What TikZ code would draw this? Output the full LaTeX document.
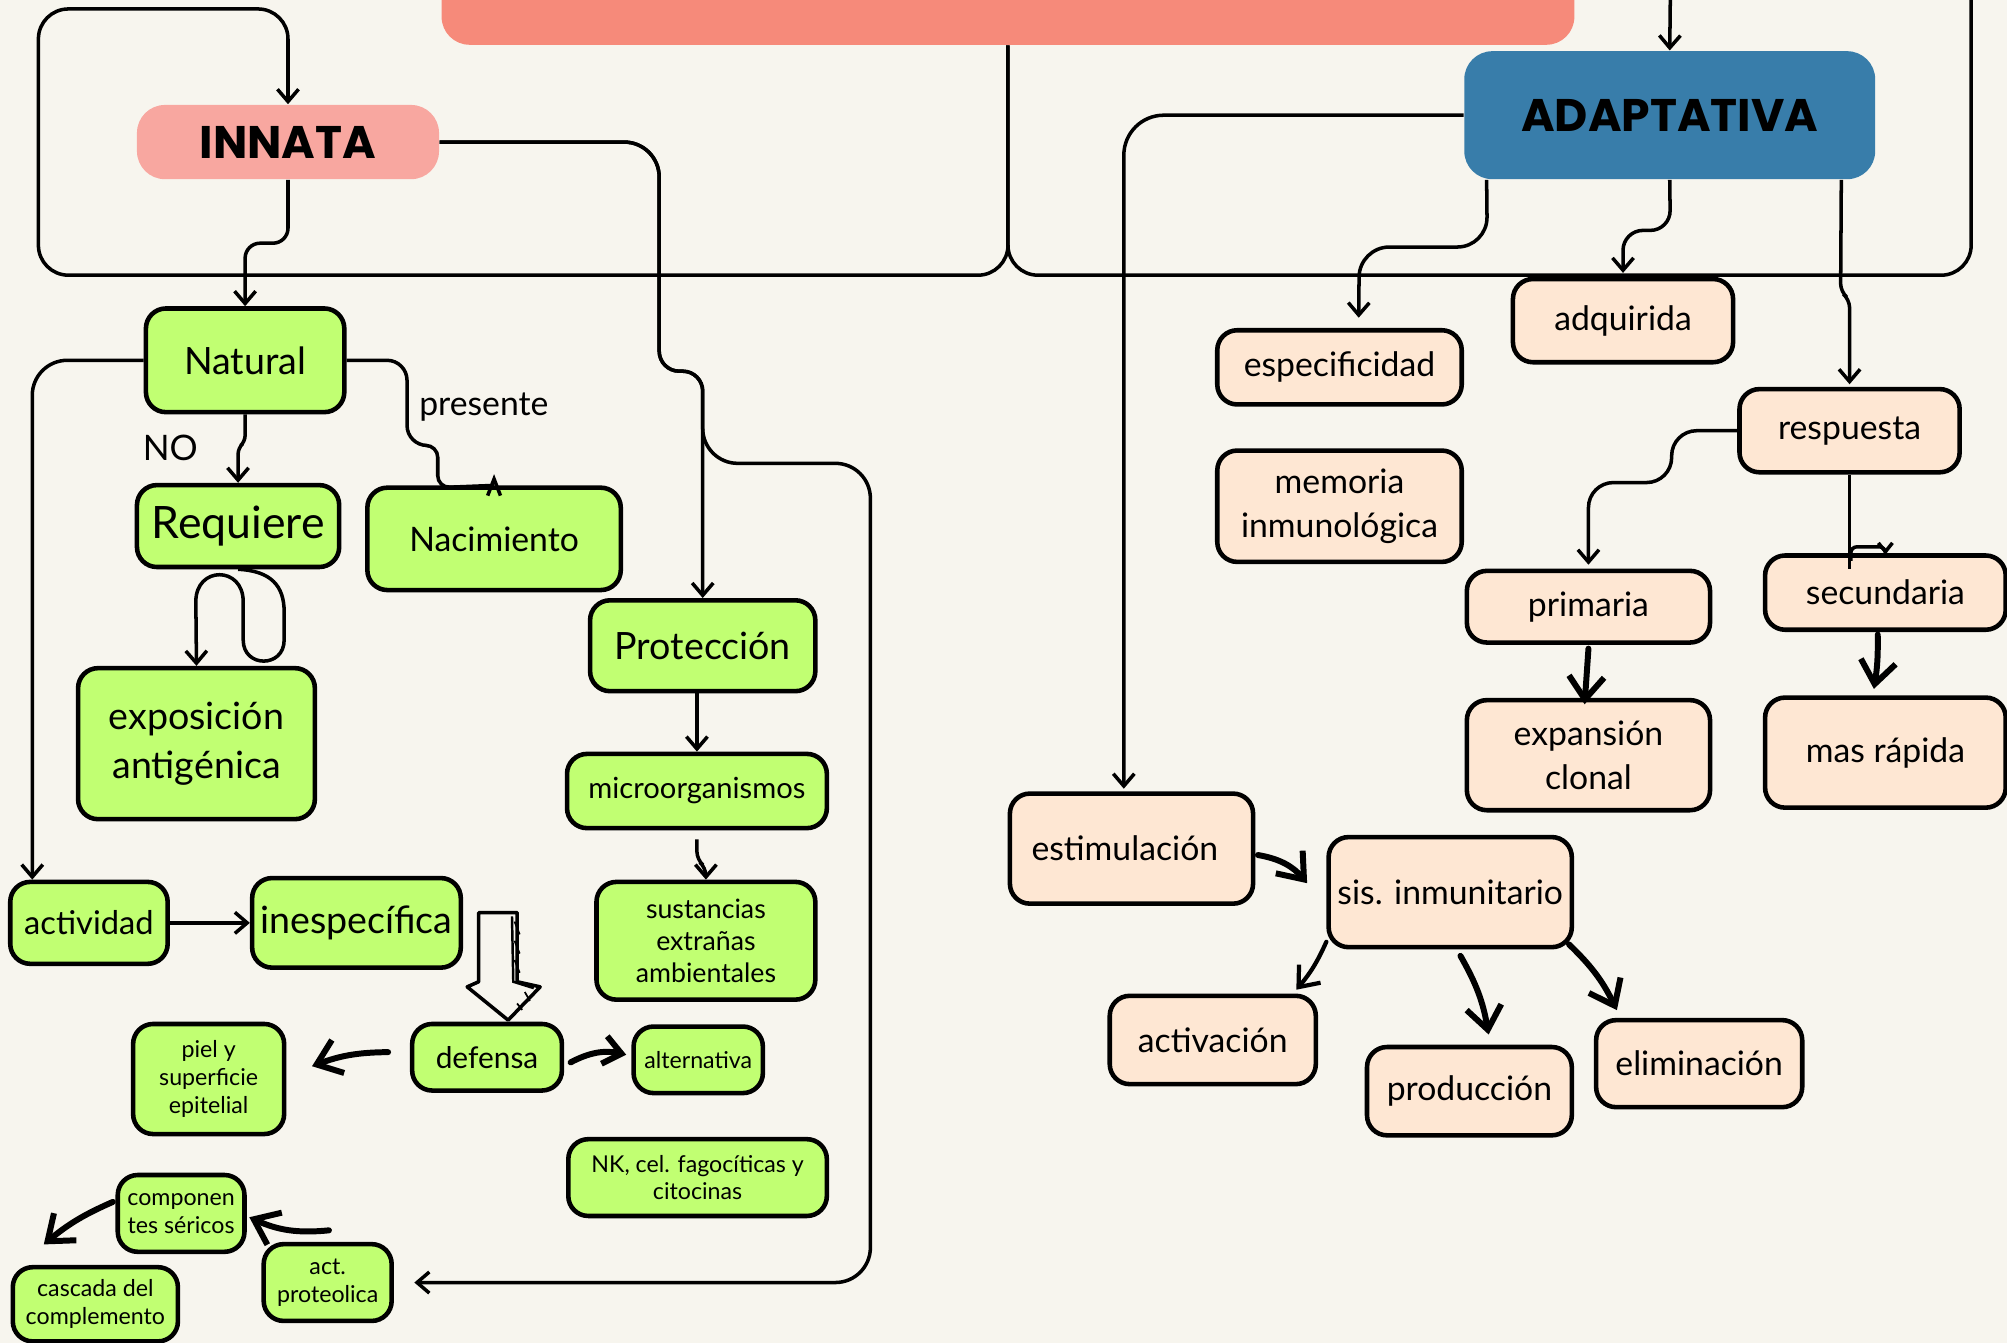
\documentclass[tikz,border=0pt]{standalone}
\usepackage{fontspec}
\setmainfont{Lato}
\newfontfamily\headfont{Poppins}
\usetikzlibrary{arrows.meta,calc,positioning}

\definecolor{bgcream}{HTML}{F7F5EE}
\definecolor{barsalmon}{HTML}{F68A7A}
\definecolor{innatapink}{HTML}{F8A7A0}
\definecolor{adaptblue}{HTML}{387DAA}
\definecolor{limegreen}{HTML}{C1FF72}
\definecolor{peach}{HTML}{FEE7D3}

\tikzset{
    boxsize/.style 2 args = {minimum width=#1*0.0128cm,
        minimum height=#2*0.0128cm},
    greenbox/.style = {draw, rectangle, rounded corners=0.2cm,
        line width=1.3pt, fill=limegreen, align=center, inner sep=2pt},
    peachbox/.style = {draw, rectangle, rounded corners=0.2cm,
        line width=1.3pt, fill=peach, align=center, inner sep=2pt},
    headbox/.style = {rectangle, rounded corners=0.28cm,
        font=\headfont\bfseries\fontsize{13}{15}\selectfont},
    link/.style = {line width=1pt, rounded corners=0.3cm},
    brush/.style = {line width=1.7pt, line cap=round,
        -{Straight Barb[length=6.5pt,width=10pt]}},
    bigtxt/.style = {font=\fontsize{10.7}{14}\selectfont},
    midtxt/.style = {font=\fontsize{9.6}{12.4}\selectfont},
    smalltxt/.style = {font=\fontsize{6.6}{7.9}\selectfont},
}

\begin{document}
\begin{tikzpicture}[x=0.0128cm, y=-0.0128cm, >={Straight Barb[length=3.5pt,width=6pt]}]
    \useasboundingbox (0,0) rectangle (1568,1049);
    \fill[bgcream] (0,0) rectangle (1568,1049);
    \clip (0,0) rectangle (1568,1049);

    % heads
    \node [rectangle, rounded corners=0.28cm, fill=barsalmon, boxsize={885}{70}] (topbar) at (787.5,0) {};
    \node [headbox, fill=innatapink, boxsize={236}{58}] (innata) at (225,111) {INNATA};
    \node [headbox, fill=adaptblue, boxsize={321}{100}] (adapt) at (1304.5,90) {ADAPTATIVA};
    \coordinate (offtopA) at (1540,-5);
    \coordinate (offtopB) at (1305,-5);

    % innata side
    \node [greenbox, bigtxt, boxsize={155}{81}] (natural) at (191.5,281.5) {Natural};
    \node [greenbox, font=\fontsize{12.7}{15}\selectfont, boxsize={158}{64}] (requiere) at (186,411) {Requiere};
    \node [greenbox, midtxt, boxsize={198}{80}] (nacimiento) at (386,421) {Nacimiento};
    \node [greenbox, bigtxt, boxsize={185}{118}] (exposicion) at (153.5,581) {exposición\\antigénica};
    \node [greenbox, bigtxt, boxsize={176}{71}] (proteccion) at (549,504.5) {Protección};
    \node [greenbox, font=\fontsize{8.3}{10}\selectfont, boxsize={203}{58}] (micro) at (544.5,618) {microorganismos};
    \node [greenbox, font=\fontsize{7.6}{9.1}\selectfont, boxsize={171}{92}] (sustancias) at (551.5,735) {sustancias\\extrañas\\ambientales};
    \node [greenbox, font=\fontsize{9.3}{11}\selectfont, boxsize={123}{64}] (actividad) at (69.5,721) {actividad};
    \node [greenbox, bigtxt, boxsize={163}{70}] (inespecifica) at (278.5,721) {inespecífica};
    \node [greenbox, font=\fontsize{8.5}{10}\selectfont, boxsize={117}{52}] (defensa) at (380.5,826) {defensa};
    \node [greenbox, smalltxt, boxsize={118}{86}] (piel) at (163,843) {piel y\\superficie\\epitelial};
    \node [greenbox, smalltxt, boxsize={101}{52}] (alternativa) at (545.5,828) {alternativa};
    \node [greenbox, smalltxt, boxsize={202}{60}] (nk) at (545,920) {NK, cel. fagocíticas y\\citocinas};
    \node [greenbox, smalltxt, boxsize={99}{60}] (componentes) at (141.5,948) {componen\\tes séricos};
    \node [greenbox, smalltxt, boxsize={100}{60}] (actprot) at (256,1002) {act.\\proteolica};
    \node [greenbox, smalltxt, boxsize={129}{58}] (cascada) at (74.5,1019) {cascada del\\complemento};

    \node [midtxt] (presente) at (378,318) {presente};
    \node [font=\fontsize{10}{12}\selectfont] (no) at (133,350) {NO};

    % adaptativa side
    \node [peachbox, midtxt, boxsize={191}{58}] (especificidad) at (1046.5,287) {especificidad};
    \node [peachbox, midtxt, boxsize={172}{65}] (adquirida) at (1268,250.5) {adquirida};
    \node [peachbox, midtxt, boxsize={191}{87}] (memoria) at (1046.5,395.5) {memoria\\inmunológica};
    \node [peachbox, midtxt, boxsize={172}{65}] (respuesta) at (1445,336.5) {respuesta};
    \node [peachbox, midtxt, boxsize={190}{56}] (primaria) at (1241,474) {primaria};
    \node [peachbox, midtxt, boxsize={188}{58}] (secundaria) at (1473,463) {secundaria};
    \node [peachbox, midtxt, boxsize={190}{86}] (expansion) at (1241,590) {expansión\\clonal};
    \node [peachbox, midtxt, boxsize={188}{86}] (masrapida) at (1473,588) {mas rápida};
    \node [peachbox, midtxt, boxsize={190}{86}, text width=2.0cm, align=left] (estimulacion) at (884,663) {estimulación};
    \node [peachbox, midtxt, boxsize={190}{86}] (sis) at (1133,697) {sis. inmunitario};
    \node [peachbox, midtxt, boxsize={161}{69}] (activacion) at (947.5,812.5) {activación};
    \node [peachbox, midtxt, boxsize={160}{69}] (produccion) at (1148,852.5) {producción};
    \node [peachbox, midtxt, boxsize={161}{68}] (eliminacion) at (1327.5,831) {eliminación};

    %% connecting lines
    \draw [link,->] (topbar.south) -- (787.5,215) -- (30,215) -- (30,7) -- (225,7) -- (innata.north);
    \draw [link] (topbar.south) -- (787.5,215) -- (1540,215) -- (offtopA);
    \draw [link,->] (offtopB) -- (adapt.north);

    \draw [link,->,rounded corners=0.15cm] (innata.south) -- (225,190) -- (191.5,190) -- (natural.north);
    \draw [link,->] [rounded corners=0.35cm] (innata.east) -- (515,111) [rounded corners=0.2cm] -- (515,290) -- (549,290) -- (proteccion.north);
    \draw [link,->,shorten >=5.8pt] [rounded corners=0.35cm] (innata.east) -- (515,111) [rounded corners=0.2cm] -- (515,290) -- (549,290) [rounded corners=0.35cm] -- (549,362) -- (680,362) -- (680,1002) -- (actprot.east);

    \draw [link,->,rounded corners=0.06cm] (natural.south) -- (191.5,345) -- (186,350) -- (requiere.north);
    \draw [link] [rounded corners=0.2cm] (natural.east) -- (318,281.5) -- (318,348) [rounded corners=0.12cm] -- (342,348) -- (342,381) -- (nacimiento.north);
    \draw [link,rounded corners=0pt] ($(nacimiento.north)+(-5,8)$) -- ($(nacimiento.north)+(0,-5)$) -- ($(nacimiento.north)+(5,8)$);
    \draw [link,->,rounded corners=0pt] (requiere.south) .. controls (212,446) and (222,458) .. (222,478) -- (222,500) .. controls (222,522) and (190,522) .. (190,500) -- (190,470) .. controls (190,442) and (153,442) .. (153,470) -- (exposicion.north);
    \draw [link,->,rounded corners=0.35cm] (natural.west) -| ($(actividad.north west)+(19,0)$);
    \draw [link,->] (actividad) -- (inespecifica);

    \draw [link,->] (micro.north |- proteccion.south) -- (micro.north);
    \draw [link,->,rounded corners=0.08cm] ($(micro.south)+(0,7)$) -- ++(0,16) -- ++(7,6) -- (sustancias.north);

    % hollow arrow to defensa
    \draw [line width=1pt, line join=round, fill=bgcream] (374,713) -- (404,713) -- (404,767) -- (422,771) -- (397,797) -- (365,771) -- (374,767) -- cycle;
    \draw [line width=0.7pt] (400,716) -- (401,767) -- (417,772);
    \draw [line width=0.5pt] (402,720) -- (406,730) (402,735) -- (406,745) (402,750) -- (406,760) (410,775) -- (414,782) (404,784) -- (408,789);

    \draw [brush] ($(defensa.west)+(-17,-4)$) to[bend right=10] ($(piel.east)+(20,-10)$);
    \draw [brush,-{Straight Barb[length=5pt,width=8pt]}] ($(defensa.east)+(5,4)$) to[bend left=20] ($(alternativa.west)+(-4,-4)$);
    \draw [brush] ($(actprot.north)+(1,-9)$) to[bend left=15] ($(componentes.east)+(2,3)$);
    \draw [brush] ($(componentes.west)+(-2,-9)$) to[bend right=8] ($(cascada.north west)+(26,-16)$);

    \draw [link,->,rounded corners=0.4cm] (adapt.west) -| ($(estimulacion.north)+(-6,-2)$);
    \draw [link,->,rounded corners=0.3cm] ($(adapt.south west)+(18,0)$) -- (1162,193) -- (1062,193) -- ($(especificidad.north)+(15,-8)$);
    \draw [link,->,rounded corners=0.2cm] (adapt.south) -- (1305,180) -- (1268,180) -- ($(adquirida.north)+(0,-3)$);
    \draw [link,->,rounded corners=0.08cm] ($(adapt.south east)+(-27,0)$) -- (1438,228) -- (1445,234) -- ($(respuesta.north)+(0,-2)$);

    \draw [link,->,rounded corners=0.25cm] (respuesta.west) -- (1306,336.5) -- (1306,377) -- (1241,377) -- ($(primaria.north)+(0,-3)$);
    \draw [link] (respuesta.south) -- ($(secundaria.north)+(-28,12)$);
    \draw [link,-{Straight Barb[length=2.5pt,width=4pt]},rounded corners=0.06cm] ($(secundaria.north)+(-27,6)$) -- ($(secundaria.north)+(-27,-5)$) -- ($(secundaria.north)+(0,-5)$) -- ($(secundaria.north)+(0,1)$);
    \draw [brush] ($(primaria.south)+(0,3)$) -- ($(expansion.north)+(-3,5)$);
    \draw [brush] ($(secundaria.south)+(-6,2)$) to[bend left=5] ($(masrapida.north)+(-9,-5)$);

    \draw [brush] ($(estimulacion.east)+(2,5)$) to[bend left=20] ($(sis.west)+(-15,-7)$);
    \draw [brush,line width=1.2pt,-{Straight Barb[length=5pt,width=8pt]}] ($(sis.south west)+(0,-6)$) to[bend left=8] ($(activacion.north east)+(-17,-3)$);
    \draw [brush] ($(sis.south)+(8,5)$) to[bend left=10] ($(produccion.north)+(15,-8)$);
    \draw [brush] ($(sis.south east)+(-4,-4)$) to[bend left=10] ($(eliminacion.north west)+(18,-6)$);
\end{tikzpicture}
\end{document}
